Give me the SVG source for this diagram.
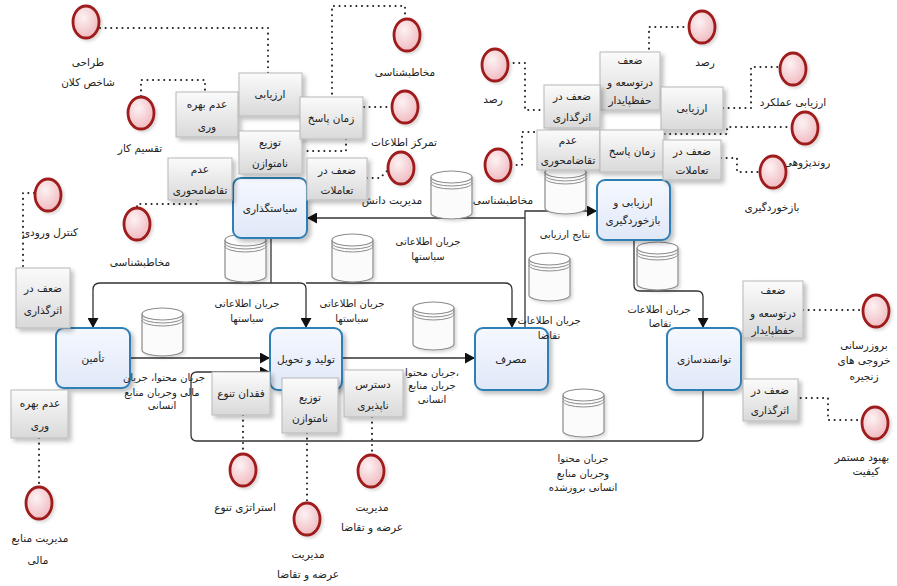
<svg xmlns="http://www.w3.org/2000/svg" width="897" height="586" viewBox="0 0 897 586">
<style>
text{font-family:'DejaVu Sans','Noto Sans',sans-serif;font-size:10.5px;fill:#222;text-anchor:middle}
.flow{fill:none;stroke:#333;stroke-width:1.3}
.dot{fill:none;stroke:#222;stroke-width:2;stroke-dasharray:0.1 5.5;stroke-linecap:round}
.wk{fill:url(#gw);stroke:#b8b8b8;stroke-width:1;filter:url(#sh)}
.pr{fill:url(#gp);stroke:#2f7fb5;stroke-width:2;filter:url(#sh)}
.fl{font-size:10px}
</style>
<defs>
<linearGradient id="gw" x1="0" y1="0" x2="0" y2="1"><stop offset="0" stop-color="#fbfbfb"/><stop offset="1" stop-color="#d9d9d9"/></linearGradient>
<linearGradient id="gp" x1="0" y1="0" x2="0" y2="1"><stop offset="0" stop-color="#f5f8fe"/><stop offset="1" stop-color="#e0e8f8"/></linearGradient>
<radialGradient id="gr" cx="0.4" cy="0.35" r="0.75"><stop offset="0" stop-color="#fdf2f3"/><stop offset="1" stop-color="#eeb3ba"/></radialGradient>
<filter id="sh" x="-20%" y="-20%" width="150%" height="150%"><feDropShadow dx="3" dy="3" stdDeviation="2" flood-color="#000" flood-opacity="0.25"/></filter>
<filter id="sh2" x="-20%" y="-20%" width="150%" height="150%"><feDropShadow dx="2" dy="2" stdDeviation="1.5" flood-color="#000" flood-opacity="0.15"/></filter>
<g id="ev"><ellipse rx="13" ry="16" fill="url(#gr)" stroke="#9e1b1b" stroke-width="2.8" filter="url(#sh2)"/></g>
<g id="db" filter="url(#sh2)"><path d="M0,6 L0,42 A20.5,6 0 0 0 41,42 L41,6" fill="#fbfbfb" stroke="#8c8c8c" stroke-width="1.2"/><ellipse cx="20.5" cy="6" rx="20.5" ry="6" fill="#fff" stroke="#8c8c8c" stroke-width="1.2"/><path d="M0,9 A20.5,6 0 0 0 41,9 M0,12 A20.5,6 0 0 0 41,12" fill="none" stroke="#8c8c8c" stroke-width="1"/></g>
<marker id="ar" markerWidth="10" markerHeight="11" refX="10" refY="5.5" orient="auto" markerUnits="userSpaceOnUse"><path d="M0,0 L10,5.5 L0,11 z" fill="#111"/></marker>
</defs>
<rect width="897" height="586" fill="#fff"/>

<g id="connectors">
<path class="flow" d="M271,238 V283"/>
<path class="flow" marker-end="url(#ar)" d="M271,283 H100 Q93,283 93,290 V328"/>
<path class="flow" marker-end="url(#ar)" d="M271,283 H300 Q306,283 306,289 V328"/>
<path class="flow" marker-end="url(#ar)" d="M306,283 H505 Q512,283 512,290 V328"/>
<path class="flow" marker-end="url(#ar)" d="M525,328 V211 H597"/>
<path class="flow" marker-end="url(#ar)" d="M525,218 H307"/>
<path class="flow" marker-end="url(#ar)" d="M130,358 H270"/>
<path class="flow" marker-end="url(#ar)" d="M703,390 V435 Q703,441 697,441 H197 Q191,441 191,435 V378 Q191,372 197,372 H270"/>
<path class="flow" marker-end="url(#ar)" d="M342,358 H475"/>
<path class="flow" marker-end="url(#ar)" d="M634,240 V285 Q634,291 640,291 H697 Q703,291 703,297 V328"/>

<path class="dot" d="M100,28 H268 V73"/>
<path class="dot" d="M141,96 V80 H205 V92"/>
<path class="dot" d="M198,200 V204 H137 V208"/>
<path class="dot" d="M34,193 H23 V268"/>
<path class="dot" d="M39,438 V487"/>
<path class="dot" d="M405,19 V6 H332 V97"/>
<path class="dot" d="M392,107 H363"/>
<path class="dot" d="M346,139 V151 H302"/>
<path class="dot" d="M367,178 H380 L388,170"/>
<path class="dot" d="M508,63 H525 V110 H544"/>
<path class="dot" d="M511,165 H522 V132 H537"/>
<path class="dot" d="M689,27 H649 V80 H660"/>
<path class="dot" d="M723,108 H751 V67 H780"/>
<path class="dot" d="M792,127 H727 V134 H664"/>
<path class="dot" d="M721,158 H737 V172 H760"/>
<path class="dot" d="M803,310 H863"/>
<path class="dot" d="M795,398 H828 V420 H862"/>
<path class="dot" d="M243,415 V454"/>
<path class="dot" d="M307,433 V503"/>
<path class="dot" d="M372,417 V455"/>
</g>

<g id="stores">
<g id="db1"><use href="#db" x="431" y="171"/></g>
<g id="db2"><use href="#db" x="545" y="166"/></g>
<g id="db3"><use href="#db" x="225" y="234"/></g>
<g id="db4"><use href="#db" x="332" y="234"/></g>
<g id="db5"><use href="#db" x="142" y="308"/></g>
<g id="db6"><use href="#db" x="413" y="302"/></g>
<g id="db7"><use href="#db" x="529" y="253"/></g>
<g id="db8"><use href="#db" x="637" y="242"/></g>
<g id="db9"><use href="#db" x="563" y="389"/></g>
</g>

<g id="processes">
<g id="p1"><rect class="pr" x="233" y="178" width="74" height="60" rx="8"/><text x="270" y="212">سیاستگذاری</text></g>
<g id="p2"><rect class="pr" x="56" y="328" width="74" height="60" rx="8"/><text x="93" y="362">تأمین</text></g>
<g id="p3"><rect class="pr" x="270" y="328" width="72" height="62" rx="8"/><text x="306" y="363">تولید و تحویل</text></g>
<g id="p4"><rect class="pr" x="475" y="328" width="73" height="62" rx="8"/><text x="511" y="363">مصرف</text></g>
<g id="p5"><rect class="pr" x="597" y="180" width="73" height="60" rx="8"/><text x="633" y="206">ارزیابی و</text><text x="633" y="224">بازخوردگیری</text></g>
<g id="p6"><rect class="pr" x="667" y="328" width="74" height="62" rx="8"/><text x="704" y="363">توانمندسازی</text></g>
</g>

<g id="flow-labels">
<text class="fl" x="428" y="245">جریان اطلاعاتی</text><text class="fl" x="428" y="260">سیاستها</text>
<text class="fl" x="247" y="307">جریان اطلاعاتی</text><text class="fl" x="247" y="322">سیاستها</text>
<text class="fl" x="352" y="307">جریان اطلاعاتی</text><text class="fl" x="352" y="322">سیاستها</text>
<text class="fl" x="164" y="381">جریان محتوا، جریان</text><text class="fl" x="162" y="396">مالی وجریان منابع</text><text class="fl" x="162" y="409">انسانی</text>
<text class="fl" x="432" y="376">جریان محتوا،</text><text class="fl" x="432" y="389">جریان منابع</text><text class="fl" x="432" y="403">انسانی</text>
<text class="fl" x="565" y="238">نتایج ارزیابی</text>
<text class="fl" x="549" y="324">جریان اطلاعات</text><text class="fl" x="549" y="339">تقاضا</text>
<text class="fl" x="659" y="313">جریان اطلاعات</text><text class="fl" x="660" y="327">تقاضا</text>
<text class="fl" x="583" y="462">جریان محتوا</text><text class="fl" x="583" y="477">وجریان  منابع</text><text class="fl" x="583" y="491">انسانی بروزشده</text>
</g>

<g id="weaknesses">
<g id="wA"><rect class="wk" x="176" y="92" width="62" height="45"/><text x="207" y="108">عدم بهره</text><text x="207" y="130">وری</text></g>
<g id="wB"><rect class="wk" x="168" y="158" width="64" height="42"/><text x="200" y="173">عدم</text><text x="200" y="194">تقاضامحوری</text></g>
<g id="wC"><rect class="wk" x="239" y="73" width="63" height="43"/><text x="270" y="98">ارزیابی</text></g>
<g id="wE"><rect class="wk" x="239" y="131" width="63" height="43"/><text x="270" y="146">توزیع</text><text x="270" y="167">نامتوازن</text></g>
<g id="wD"><rect class="wk" x="300" y="97" width="63" height="42"/><text x="331" y="122">زمان پاسخ</text></g>
<g id="wF"><rect class="wk" x="307" y="158" width="60" height="42"/><text x="337" y="174">ضعف در</text><text x="337" y="194">تعاملات</text></g>
<g id="wH"><rect class="wk" x="600" y="52" width="60" height="58"/><text x="630" y="64">ضعف</text><text x="630" y="86">درتوسعه و</text><text x="630" y="104">حفظپایدار</text></g>
<g id="wG"><rect class="wk" x="544" y="85" width="56" height="43"/><text x="572" y="100">ضعف در</text><text x="572" y="121">اثرگذاری</text></g>
<g id="wK"><rect class="wk" x="661" y="87" width="62" height="43"/><text x="692" y="112">ارزیابی</text></g>
<g id="wI"><rect class="wk" x="537" y="130" width="63" height="40"/><text x="568" y="144">عدم</text><text x="568" y="164">تقاضامحوری</text></g>
<g id="wJ"><rect class="wk" x="600" y="130" width="64" height="42"/><text x="632" y="155">زمان پاسخ</text></g>
<g id="wL"><rect class="wk" x="663" y="140" width="58" height="40"/><text x="692" y="155">ضعف در</text><text x="692" y="174">تعاملات</text></g>
<g id="wM"><rect class="wk" x="16" y="268" width="54" height="60"/><text x="43" y="292">ضعف در</text><text x="43" y="314">اثرگذاری</text></g>
<g id="wN"><rect class="wk" x="11" y="390" width="57" height="48"/><text x="40" y="407">عدم بهره</text><text x="40" y="429">وری</text></g>
<g id="wO"><rect class="wk" x="743" y="281" width="60" height="57"/><text x="773" y="294">ضعف</text><text x="773" y="317">درتوسعه و</text><text x="773" y="334">حفظپایدار</text></g>
<g id="wP"><rect class="wk" x="743" y="379" width="55" height="42"/><text x="770" y="394">ضعف در</text><text x="770" y="414">اثرگذاری</text></g>
<g id="wQ"><rect class="wk" x="212" y="372" width="58" height="43"/><text x="241" y="397">فقدان تنوع</text></g>
<g id="wR"><rect class="wk" x="282" y="378" width="56" height="55"/><text x="310" y="401">توزیع</text><text x="310" y="422">نامتوازن</text></g>
<g id="wS"><rect class="wk" x="344" y="370" width="59" height="47"/><text x="373" y="388">دسترس</text><text x="373" y="409">ناپذیری</text></g>
</g>

<g id="events">
<g id="e1"><use href="#ev" x="86" y="22"/><text x="88" y="66">طراحی</text><text x="88" y="86">شاخص کلان</text></g>
<g id="e2"><use href="#ev" x="141" y="113"/><text x="140" y="152">تقسیم کار</text></g>
<g id="e3"><use href="#ev" x="137" y="224"/><text x="140" y="266">مخاطبشناسی</text></g>
<g id="e4"><use href="#ev" x="48" y="195"/><text x="50" y="236">کنترل ورودی</text></g>
<g id="e5"><use href="#ev" x="407" y="35"/><text x="405" y="76">مخاطبشناسی</text></g>
<g id="e6"><use href="#ev" x="405" y="107"/><text x="404" y="146">تمرکز اطلاعات</text></g>
<g id="e7"><use href="#ev" x="401" y="168"/><text x="392" y="204">مدیریت دانش</text></g>
<g id="e8"><use href="#ev" x="495" y="65"/><text x="493" y="103">رصد</text></g>
<g id="e9"><use href="#ev" x="498" y="165"/><text x="503" y="204">مخاطبشناسی</text></g>
<g id="e10"><use href="#ev" x="702" y="27"/><text x="705" y="66">رصد</text></g>
<g id="e11"><use href="#ev" x="793" y="69"/><text x="793" y="106">ارزیابی عملکرد</text></g>
<g id="e12"><use href="#ev" x="805" y="128"/><text x="807" y="166">روندپژوهی</text></g>
<g id="e13"><use href="#ev" x="773" y="172"/><text x="772" y="211">بازخوردگیری</text></g>
<g id="e14"><use href="#ev" x="876" y="311"/><text x="864" y="349">بروزرسانی</text><text x="864" y="364">خروجی های</text><text x="864" y="380">زنجیره</text></g>
<g id="e15"><use href="#ev" x="875" y="423"/><text x="862" y="461">بهبود مستمر</text><text x="866" y="475">کیفیت</text></g>
<g id="e16"><use href="#ev" x="39" y="503"/><text x="40" y="542">مدیریت منابع</text><text x="38" y="564">مالی</text></g>
<g id="e17"><use href="#ev" x="243" y="470"/><text x="245" y="511">استراتژی تنوع</text></g>
<g id="e18"><use href="#ev" x="307" y="519"/><text x="308" y="558">مدیریت</text><text x="308" y="578">عرضه و تقاضا</text></g>
<g id="e19"><use href="#ev" x="371" y="471"/><text x="372" y="511">مدیریت</text><text x="372" y="531">عرضه و تقاضا</text></g>
</g>
</svg>
